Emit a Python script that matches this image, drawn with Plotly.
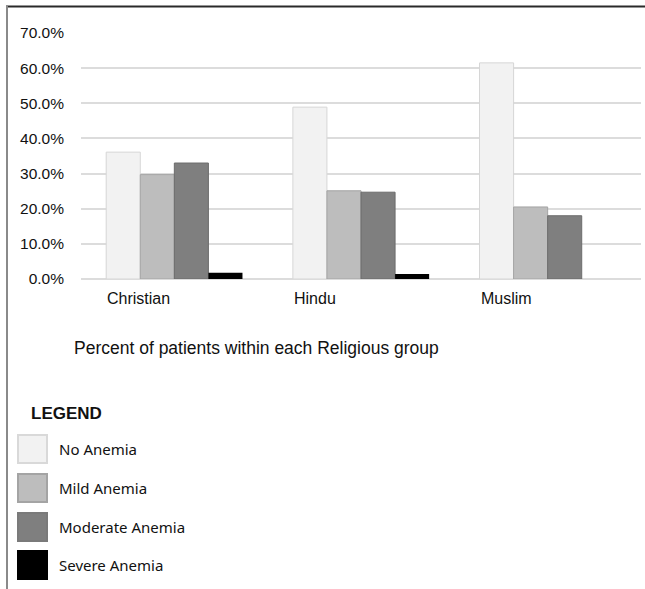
import plotly.graph_objects as go

# Percent of patients in each anemia class, by religious group
religions = ["Christian", "Hindu", "Muslim"]
no_anemia = [36.1, 48.9, 61.5]
mild_anemia = [29.7, 25.1, 20.5]
moderate_anemia = [33.0, 24.7, 18.0]
severe_anemia = [1.8, 1.4, 0.0]

series_names = ["No Anemia", "Mild Anemia", "Moderate Anemia", "Severe Anemia"]
series_values = [no_anemia, mild_anemia, moderate_anemia, severe_anemia]
fill_colors = ["#f2f2f2", "#bdbdbd", "#7f7f7f", "#000000"]
edge_colors = ["#d6d6d6", "#a4a4a4", "#6c6c6c", "#000000"]
edge_widths = [1, 1, 1, 0]

y_ticks = [0, 10, 20, 30, 40, 50, 60, 70]

W, H = 645, 589
plot_left, plot_right, plot_top, plot_bottom = 81, 641, 33, 279
pw = plot_right - plot_left
ph = plot_bottom - plot_top


def px_x(px):
    return (px - plot_left) / pw


def px_y(py):
    return (plot_bottom - py) / ph


fig = go.Figure()
for name, vals, fc, ec, ew in zip(series_names, series_values, fill_colors, edge_colors, edge_widths):
    fig.add_trace(go.Bar(
        x=religions, y=vals, name=name,
        marker=dict(color=fc, line=dict(color=ec, width=ew)),
        showlegend=False,
    ))

sans = "Liberation Sans, Arial, sans-serif"

annotations = []
# category labels, left-aligned at the start of each bar group
for r in religions:
    annotations.append(dict(
        x=r, xref="x", xanchor="left", xshift=-69,
        y=px_y(298), yref="paper", yanchor="middle",
        text=r, showarrow=False, font=dict(family=sans, size=16, color="#111111"),
    ))

annotations.append(dict(
    x=px_x(72), xref="paper", xanchor="left",
    y=px_y(348), yref="paper", yanchor="middle",
    text="Percent of patients within each Religious group", showarrow=False,
    font=dict(family=sans, size=17.5, color="#111111"),
))

annotations.append(dict(
    x=px_x(29), xref="paper", xanchor="left",
    y=px_y(413), yref="paper", yanchor="middle",
    text="<b>LEGEND</b>", showarrow=False,
    font=dict(family=sans, size=17, color="#111111"),
))

shapes = []
# frame lines
shapes.append(dict(type="line", xref="paper", yref="paper",
                   x0=px_x(6), x1=px_x(645), y0=px_y(6.5), y1=px_y(6.5),
                   line=dict(color="#2a2a2a", width=2)))
shapes.append(dict(type="line", xref="paper", yref="paper",
                   x0=px_x(7), x1=px_x(7), y0=px_y(5.5), y1=px_y(589),
                   line=dict(color="#8a8a8a", width=2)))

# legend swatches and labels
legend_centers = [449, 488, 527, 565]
swatch_edges = ["#d9d9d9", "#a4a4a4", "#7a7a7a", "#000000"]
for name, fc, ec, cy in zip(series_names, fill_colors, swatch_edges, legend_centers):
    shapes.append(dict(type="rect", xref="paper", yref="paper",
                       x0=px_x(18), x1=px_x(47), y0=px_y(cy - 14), y1=px_y(cy + 14),
                       fillcolor=fc, line=dict(color=ec, width=2)))
    annotations.append(dict(
        x=px_x(57), xref="paper", xanchor="left",
        y=px_y(cy), yref="paper", yanchor="middle",
        text=name, showarrow=False,
        font=dict(family="Noto Sans, Open Sans, sans-serif", size=15, color="#111111"),
    ))

fig.update_layout(
    width=W, height=H,
    margin=dict(l=plot_left, r=W - plot_right, t=plot_top, b=H - plot_bottom, pad=0),
    paper_bgcolor="white", plot_bgcolor="white",
    barmode="group", bargap=0.27, bargroupgap=0,
    annotations=annotations, shapes=shapes,
    xaxis=dict(showticklabels=False, showgrid=False, zeroline=False, showline=False,
               range=[-0.5, 2.5], fixedrange=True),
    yaxis=dict(range=[0, 70], tickvals=y_ticks, ticktext=[f"{v:.1f}%" for v in y_ticks],
               showgrid=True, gridcolor="#dcdcdc", gridwidth=1.5,
               zeroline=True, zerolinecolor="#dcdcdc", zerolinewidth=1.5,
               showline=False, ticks="", ticklabelstandoff=16,
               tickfont=dict(family=sans, size=15.5, color="#111111")),
    font=dict(family=sans),
)

fig.write_html("out.html")
